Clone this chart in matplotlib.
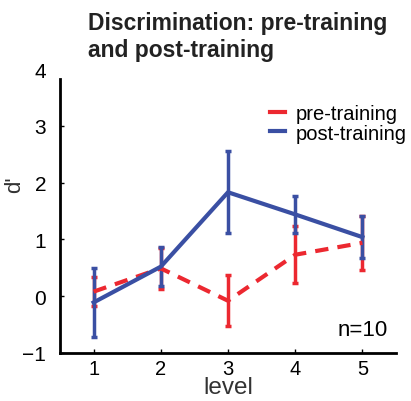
import matplotlib
matplotlib.use("Agg")
import matplotlib.pyplot as plt
from matplotlib.lines import Line2D

levels = [1, 2, 3, 4, 5]
pre_mean = [0.08, 0.49, -0.08, 0.73, 0.94]
pre_err = [0.26, 0.36, 0.45, 0.50, 0.48]
post_mean = [-0.11, 0.52, 1.83, 1.44, 1.04]
post_err = [0.60, 0.34, 0.72, 0.33, 0.37]
yticks = [-1, 0, 1, 2, 3, 4]
series_labels = ['pre-training', 'post-training']

RED = '#ec2830'
BLUE = '#3a4fa3'

plt.rcParams['font.family'] = ['Liberation Sans', 'DejaVu Sans']

fig = plt.figure(figsize=(4.11, 4.02), dpi=100)
ax = fig.add_axes([60/411, (402-354)/402, (396-60)/411, (354-70)/402])

ax.errorbar(levels, pre_mean, yerr=pre_err, color=RED, lw=3, ls=(0, (3.2, 2.2)),
            elinewidth=2.5, capsize=2, capthick=2.5)
ax.errorbar(levels, post_mean, yerr=post_err, color=BLUE, lw=3,
            elinewidth=2.5, capsize=2, capthick=2.5)

ax.set_xlim(0.5, 5.5)
ax.set_ylim(-1, 4)
ax.set_xticks(levels)
ax.set_yticks(yticks)
ax.tick_params(direction='in', labelsize=15, length=3, width=1)
ax.tick_params(axis='x', pad=4, labelsize=14.5)
ax.tick_params(axis='y', pad=10)
ax.yaxis.get_major_ticks()[-1].tick1line.set_visible(False)
for s in ['top', 'right']:
    ax.spines[s].set_visible(False)
ax.spines['left'].set_bounds(-1, 3.82)
for s in ['left', 'bottom']:
    ax.spines[s].set_linewidth(2)

ax.set_xlabel('level', fontsize=17.5, labelpad=-1, color='#333333')
ax.set_ylabel("d'", fontsize=16, color='#333333')
ax.yaxis.set_label_coords(-0.105, 0.595)

h = [Line2D([], [], color=RED, lw=3), Line2D([], [], color=BLUE, lw=3)]
ax.legend(h, series_labels, loc='upper left', bbox_to_anchor=(0.625, 0.875), frameon=False,
          fontsize=14.5, handlelength=0.75, handletextpad=0.55, labelspacing=0.0,
          borderpad=0, borderaxespad=0)

ax.text(0.975, 0.045, 'n=10', transform=ax.transAxes, ha='right', va='bottom', fontsize=16)

fig.text(88/411, 1 - 12/402, 'Discrimination: pre-training\nand post-training', ha='left', va='top',
         fontsize=16.5, fontweight='bold', linespacing=1.2, color='#222222')

fig.savefig('out.png', dpi=100)
